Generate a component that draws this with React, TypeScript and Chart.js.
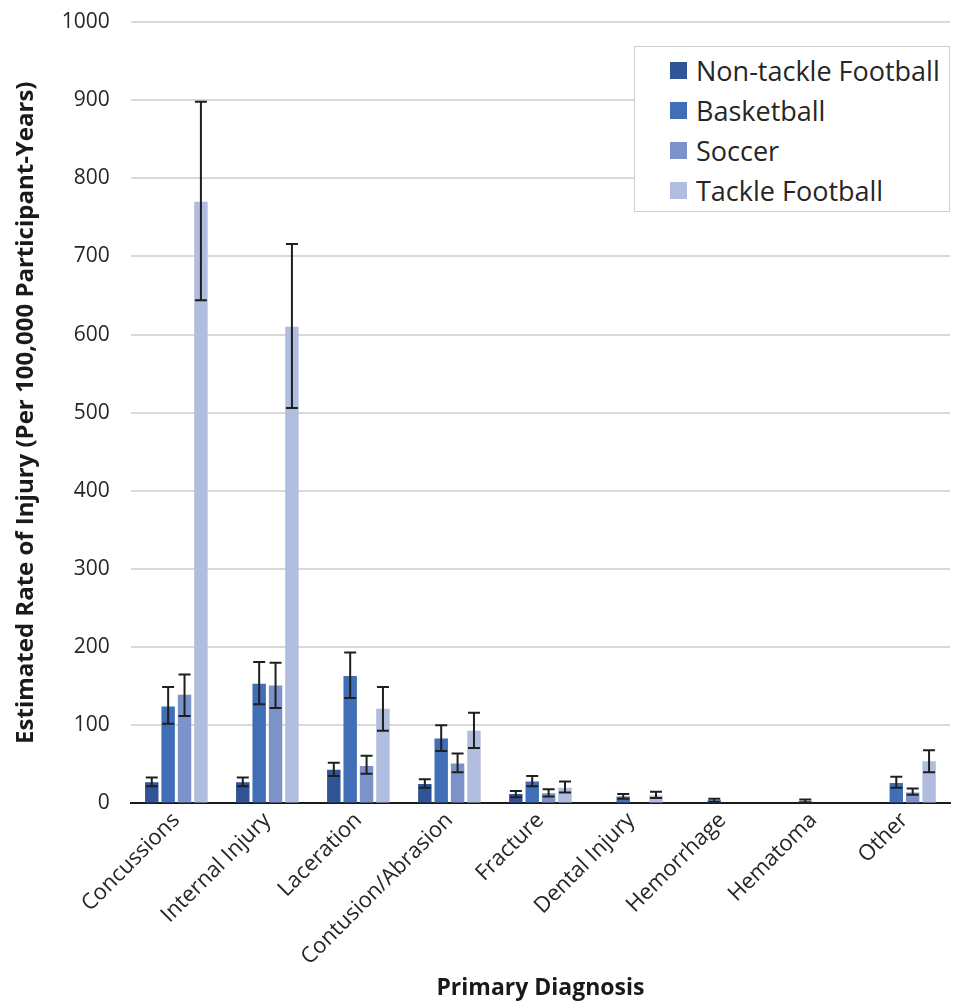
import React, { useEffect, useRef } from "react";
import { Chart, registerables } from "chart.js";

Chart.register(...registerables);

const categories = ["Concussions", "Internal Injury", "Laceration", "Contusion/Abrasion", "Fracture", "Dental Injury", "Hemorrhage", "Hematoma", "Other"];
const seriesNames = ["Non-tackle Football", "Basketball", "Soccer", "Tackle Football"];
const colors = ["#2F5597", "#416FB7", "#7C93C9", "#B1BDDF"];

const nonTackle = [27, 27, 43, 25, 12, 0, 0, 0, 0];
const nonTackleLow = [22, 22, 35, 20, 8, null, null, null, null];
const nonTackleHigh = [33, 33, 52, 31, 16, null, null, null, null];

const basketball = [124, 153, 163, 83, 28, 9, 4, 3, 26];
const basketballLow = [102, 127, 135, 67, 22, 6, 2, 1, 20];
const basketballHigh = [149, 181, 193, 100, 35, 12, 6, 5, 34];

const soccer = [139, 151, 48, 51, 13, 0, 0, 0, 14];
const soccerLow = [112, 122, 38, 40, 9, null, null, null, 11];
const soccerHigh = [165, 180, 61, 64, 18, null, null, null, 19];

const tackle = [770, 610, 121, 93, 20, 10, 0, 0, 54];
const tackleLow = [644, 506, 93, 71, 14, 7, null, null, 40];
const tackleHigh = [898, 716, 149, 116, 28, 15, null, null, 68];

const yTicks = [0, 100, 200, 300, 400, 500, 600, 700, 800, 900, 1000];

const values = [nonTackle, basketball, soccer, tackle];
const lows = [nonTackleLow, basketballLow, soccerLow, tackleLow];
const highs = [nonTackleHigh, basketballHigh, soccerHigh, tackleHigh];

const FONT = "'Open Sans', 'Liberation Sans', sans-serif";

const errorBarPlugin = {
  id: "errorBars",
  afterDatasetsDraw(chart: any) {
    const ctx = chart.ctx;
    const y = chart.scales.y;
    ctx.save();
    ctx.strokeStyle = "#1f1f1f";
    ctx.lineWidth = 2;
    chart.data.datasets.forEach((ds: any, di: number) => {
      const meta = chart.getDatasetMeta(di);
      meta.data.forEach((bar: any, i: number) => {
        const lo = ds.errLow[i];
        const hi = ds.errHigh[i];
        if (lo == null || hi == null) return;
        const x = bar.x;
        const yl = y.getPixelForValue(lo);
        const yh = y.getPixelForValue(hi);
        const cap = 6;
        ctx.beginPath();
        ctx.moveTo(x, yl);
        ctx.lineTo(x, yh);
        ctx.moveTo(x - cap, yl);
        ctx.lineTo(x + cap, yl);
        ctx.moveTo(x - cap, yh);
        ctx.lineTo(x + cap, yh);
        ctx.stroke();
      });
    });
    ctx.restore();
  },
};

export default function App() {
  const ref = useRef<HTMLCanvasElement>(null);
  useEffect(() => {
    document.body.style.margin = "0";
    const chart = new Chart(ref.current!, {
      type: "bar",
      data: {
        labels: categories,
        datasets: seriesNames.map((name, k) => ({
          label: name,
          data: values[k],
          backgroundColor: colors[k],
          errLow: lows[k],
          errHigh: highs[k],
          categoryPercentage: 0.72,
          barPercentage: 0.82,
        })) as any,
      },
      options: {
        animation: false,
        responsive: false,
        maintainAspectRatio: false,
        layout: { padding: { top: 22, right: 7, left: 12, bottom: 0 } },
        plugins: {
          legend: { display: false },
          tooltip: { enabled: false },
        },
        scales: {
          x: {
            grid: { display: false, drawTicks: false },
            border: { display: true, color: "#1a1a1a", width: 2 },
            ticks: {
              color: "#262626",
              font: { family: FONT, size: 22 },
              maxRotation: 45,
              minRotation: 45,
              padding: 4,
            },
            title: {
              display: true,
              text: "Primary Diagnosis",
              color: "#1a1a1a",
              font: { family: FONT, size: 23, weight: "bold" },
              padding: { top: 0, bottom: 0 },
            },
          },
          y: {
            min: 0,
            max: 1000,
            afterBuildTicks: (axis: any) => {
              axis.ticks = yTicks.map((v) => ({ value: v }));
            },
            afterFit: (axis: any) => {
              axis.paddingTop = 0;
              axis.paddingBottom = 0;
            },
            grid: { color: "#d9d9d9", lineWidth: 2, drawTicks: false },
            border: { display: false },
            ticks: {
              color: "#262626",
              font: { family: FONT, size: 21 },
              padding: 21,
              callback: (v: any) => String(v),
            },
            title: {
              display: true,
              text: "Estimated Rate of Injury (Per 100,000 Participant-Years)",
              color: "#1a1a1a",
              font: { family: FONT, size: 24, weight: "bold" },
              padding: { top: 0, bottom: 0 },
            },
          },
        },
      },
      plugins: [errorBarPlugin],
    });
    return () => chart.destroy();
  }, []);

  return (
    <div style={{ position: "relative", width: 957, height: 1002, background: "#fff" }}>
      <canvas ref={ref} width={957} height={1002} style={{ display: "block" }} />
      <div
        style={{
          position: "absolute",
          left: 634,
          top: 46,
          width: 316,
          height: 166,
          border: "1.5px solid #d0d0d0",
          background: "#fff",
          boxSizing: "border-box",
          fontFamily: FONT,
          fontSize: 27,
          color: "#262626",
          paddingTop: 3,
        }}
      >
        {seriesNames.map((n, k) => (
          <div key={n} style={{ display: "flex", alignItems: "center", height: 40, paddingLeft: 35 }}>
            <span style={{ width: 17, height: 17, background: colors[k], display: "inline-block", marginRight: 9, flexShrink: 0 }} />
            <span style={{ whiteSpace: "nowrap" }}>{n}</span>
          </div>
        ))}
      </div>
    </div>
  );
}
